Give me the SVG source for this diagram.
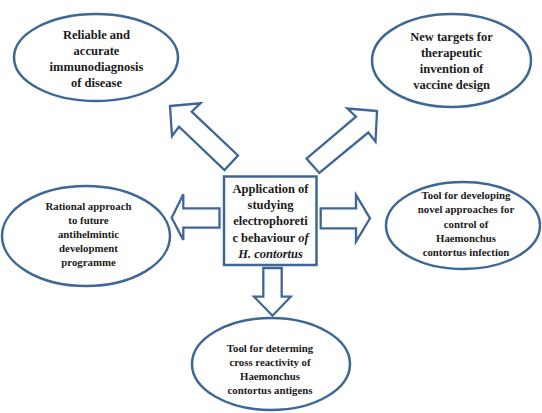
<svg xmlns="http://www.w3.org/2000/svg" width="542" height="413" viewBox="0 0 542 413">
<style>
.shape{fill:#ffffff;stroke:#3E6797;stroke-width:2.5;stroke-linejoin:miter}
.arrow{fill:#ffffff;stroke:#3E6797;stroke-width:2.3;stroke-linejoin:miter}
text{font-family:"Liberation Serif","Times New Roman",serif;font-weight:bold;fill:#1a1a1a;text-anchor:middle}
.big{font-size:12.5px}
.small{font-size:10.8px}
</style>
<rect width="542" height="413" fill="#ffffff"/>
<g id="connectors">
<polygon class="arrow" points="170,106 200.5,103.3 191.7,111.7 238,155.5 224.5,170 179,126.7 172,136"/>
<polygon class="arrow" points="377,111 347.3,108.5 356,116.7 306.5,158.5 319.3,173 368.3,132.5 375.5,141.7"/>
<polygon class="arrow" points="219.5,208.3 183.3,208.3 183.3,194.3 171.7,217.8 183.3,240 183.3,227.7 219.5,227.7"/>
<polygon class="arrow" points="320.7,208.3 356,208.3 356,195 370,218.3 356,241.7 356,228.3 320.7,228.3"/>
<polygon class="arrow" points="263.3,268 281.7,268 281.7,296.7 290.7,296.7 272.5,315.7 254,296.7 263.3,296.7"/>
</g>
<g id="center">
<rect class="shape" x="224" y="176.5" width="92.5" height="88.5"/>
<text class="big" x="270.5" y="193">Application of</text>
<text class="big" x="270.5" y="209">studying</text>
<text class="big" x="270.5" y="225">electrophoreti</text>
<text class="big" x="270.5" y="241.5">c behaviour <tspan font-style="italic">of</tspan></text>
<text class="big" x="270.5" y="258" font-style="italic">H. contortus</text>
</g>
<g id="top-left">
<ellipse class="shape" cx="96" cy="57.5" rx="82" ry="43.5"/>
<text class="big" x="96.5" y="38.5">Reliable and</text>
<text class="big" x="96.5" y="54.5">accurate</text>
<text class="big" x="96.5" y="70.5">immunodiagnosis</text>
<text class="big" x="96.5" y="86.5">of disease</text>
</g>
<g id="top-right">
<ellipse class="shape" cx="451.5" cy="60.5" rx="79.5" ry="46.5"/>
<text class="big" x="451.5" y="40.5">New targets for</text>
<text class="big" x="451.5" y="56.7">therapeutic</text>
<text class="big" x="451.5" y="72.9">invention of</text>
<text class="big" x="451.5" y="89.1">vaccine design</text>
</g>
<g id="left">
<ellipse class="shape" cx="86" cy="236" rx="84" ry="50"/>
<text class="small" x="88.5" y="210">Rational approach</text>
<text class="small" x="88.5" y="224">to future</text>
<text class="small" x="88.5" y="238">antihelmintic</text>
<text class="small" x="88.5" y="252">development</text>
<text class="small" x="88.5" y="266">programme</text>
</g>
<g id="right">
<ellipse class="shape" cx="463" cy="225.5" rx="77" ry="43.5"/>
<text class="small" x="466" y="198.5">Tool for developing</text>
<text class="small" x="466" y="213">novel approaches for</text>
<text class="small" x="466" y="227.5">control of</text>
<text class="small" x="466" y="242">Haemonchus</text>
<text class="small" x="466" y="256">contortus infection</text>
</g>
<g id="bottom">
<ellipse class="shape" cx="271" cy="364" rx="79" ry="46"/>
<text class="small" x="270" y="351.5">Tool for determing</text>
<text class="small" x="270" y="365.5">cross reactivity of</text>
<text class="small" x="270" y="379.5">Haemonchus</text>
<text class="small" x="270" y="393.5">contortus antigens</text>
</g>
</svg>
